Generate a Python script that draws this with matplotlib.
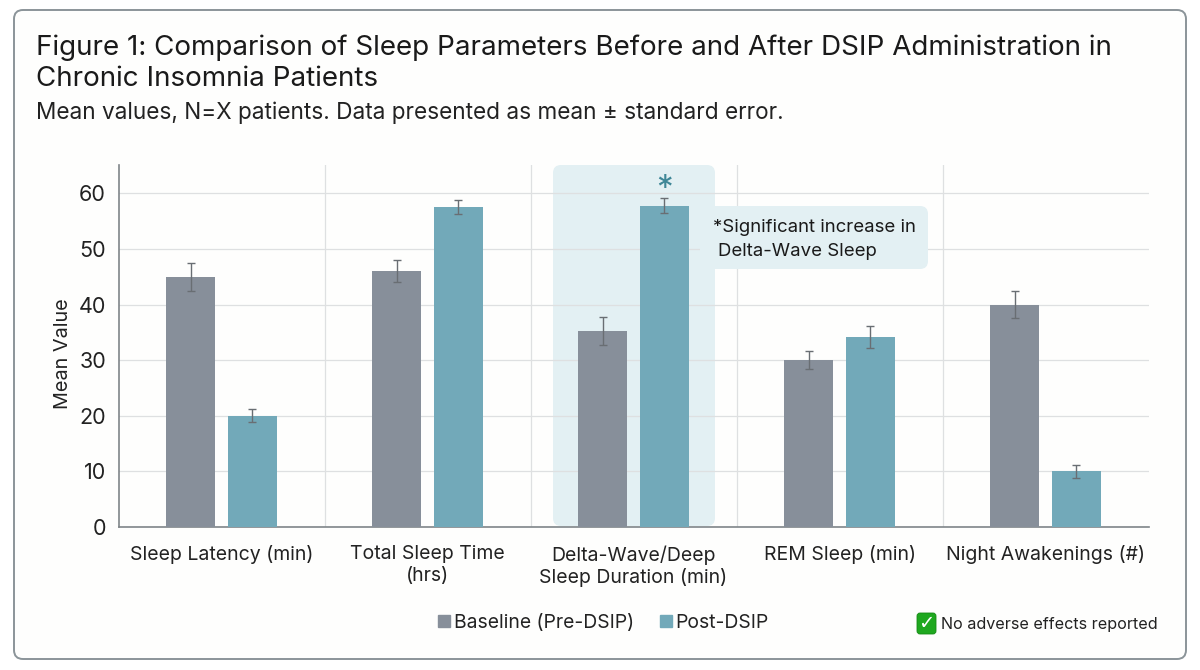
#!/usr/bin/env python3

import numpy as np
import matplotlib.pyplot as plt
from matplotlib.patches import FancyBboxPatch, Patch

plt.rcParams['font.family'] = ['Inter', 'DejaVu Sans']

W, H = 1200, 670

categories = ['Sleep Latency (min)', 'Total Sleep Time\n(hrs)', 'Delta-Wave/Deep\nSleep Duration (min)',
              'REM Sleep (min)', 'Night Awakenings (#)']
baseline = [45, 46, 35.3, 30, 40]
baseline_err = [2.5, 2.0, 2.5, 1.6, 2.5]
post = [20, 57.5, 57.8, 34.2, 10]
post_err = [1.2, 1.3, 1.4, 2.0, 1.2]
y_ticks = [0, 10, 20, 30, 40, 50, 60]

grey = '#878f9a'
teal = '#72a9b9'
pale = '#e3f0f3'

fig = plt.figure(figsize=(W/100, H/100), dpi=100, facecolor='white')

# page layer in pixel coordinates, y pointing down
bg = fig.add_axes([0, 0, 1, 1], zorder=0)
bg.set_xlim(0, W)
bg.set_ylim(H, 0)
bg.axis('off')

def rbox(a, x0, y0, x1, y1, r, **kw):
    p = FancyBboxPatch((x0+r, y0+r), x1-x0-2*r, y1-y0-2*r,
                       boxstyle='round,pad=%g,rounding_size=%g' % (r, r), **kw)
    a.add_patch(p)
    return p

rbox(bg, 14, 10, 1186, 659, 9, fc='#fefefd', ec='#8b9499', lw=1.4)

bg.text(36, 47.5, 'Figure 1: Comparison of Sleep Parameters Before and After DSIP Administration in',
        fontsize=20, color='#1a1a1a', va='center')
bg.text(36, 78.5, 'Chronic Insomnia Patients', fontsize=20, color='#1a1a1a', va='center')
bg.text(36, 113, 'Mean values, N=X patients. Data presented as mean ± standard error.',
        fontsize=16.25, color='#222222', va='center')

# highlight behind the delta-wave group
rbox(bg, 553, 165, 715, 526, 8, fc=pale, ec='none')

# bar chart
ax = fig.add_axes([118.5/W, 1-527/H, 1030/W, 362/H], zorder=1)
ax.patch.set_alpha(0)

x = np.arange(len(categories))
offset = 0.15
width = 0.238
err_style = dict(ecolor='#696e73', elinewidth=1, capsize=3.2, capthick=1)

ax.bar(x-offset, baseline, width, yerr=baseline_err, color=grey, error_kw=err_style, zorder=3)
ax.bar(x+offset, post, width, yerr=post_err, color=teal, error_kw=err_style, zorder=3)

ax.set_xlim(-0.5, 4.5)
ax.set_ylim(0, 65.1)
ax.set_xticks(x)
ax.set_xticklabels(categories, fontsize=14, color='#222222', linespacing=1.25)
ax.set_yticks(y_ticks)
ax.tick_params(axis='y', length=0, labelsize=15.5, labelcolor='#222222', pad=9)
ax.tick_params(axis='x', length=0, pad=13)
ax.set_ylabel('Mean Value', fontsize=14.3, color='#222222')
ax.yaxis.set_label_coords(-0.045, 0.48)

ax.grid(axis='y', color='#dee0e1', lw=0.9, zorder=1)
for sep in x[:-1]+0.5:
    ax.axvline(sep, color='#dee0e1', lw=0.9, zorder=1)

for side in ['top', 'right']:
    ax.spines[side].set_visible(False)
for side in ['left', 'bottom']:
    ax.spines[side].set_color('#7f8589')
    ax.spines[side].set_linewidth(1.2)

ax.text(x[2]+offset, 60.6, '*', fontsize=24, color='#3f8797', ha='center', va='center', zorder=5)

# callout and footer sit above the chart
fg = fig.add_axes([0, 0, 1, 1], zorder=2)
fg.set_xlim(0, W)
fg.set_ylim(H, 0)
fg.axis('off')

rbox(fg, 700, 206, 928, 269, 8, fc=pale, ec='none')
fg.text(713, 227.5, '*Significant increase in', fontsize=13.4, color='#1a1a1a', va='center')
fg.text(718, 251, 'Delta-Wave Sleep', fontsize=13.4, color='#1a1a1a', va='center')

handles = [Patch(color=grey, label='Baseline (Pre-DSIP)'), Patch(color=teal, label='Post-DSIP')]
fig.legend(handles=handles, loc='center', bbox_to_anchor=(603.5/W, 1-623/H), ncol=2, frameon=False,
           fontsize=13.9, handlelength=0.6, handleheight=0.6, handletextpad=0.2, columnspacing=1.35,
           labelcolor='#222222')

rbox(fg, 917, 613, 936, 634, 3, fc='#1fa81f', ec='#158a15', lw=0.6)
fg.text(926.5, 623.5, '\u2713', fontsize=14, fontweight='bold', color='white', ha='center', va='center',
        family='DejaVu Sans')
fg.text(941, 624.5, 'No adverse effects reported', fontsize=11.6, color='#222222', va='center')

fig.savefig('out.png', dpi=100)
